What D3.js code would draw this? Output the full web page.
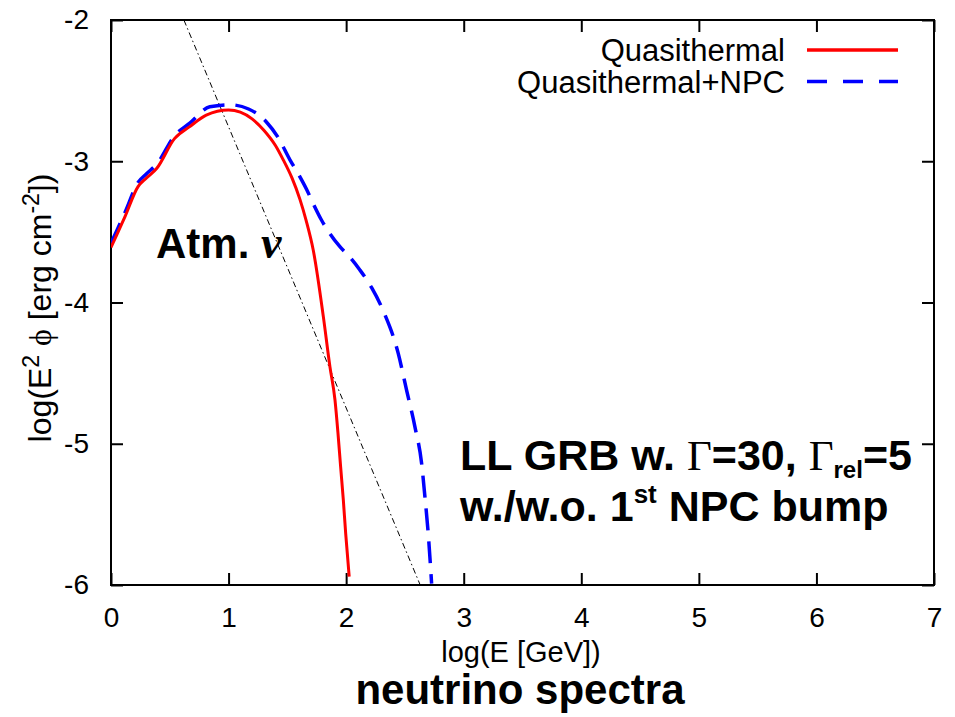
<!DOCTYPE html>
<html>
<head>
<meta charset="utf-8">
<script src="https://cdn.jsdelivr.net/npm/d3@7"></script>
<style>
  body { margin: 0; background: #fff; }
  text { font-family: "Liberation Sans", Arial, sans-serif; fill: #000; }
</style>
</head>
<body>
<script>
// log(E [GeV]) and log(E^2 phi)
var qtX = [0.00, 0.05, 0.12, 0.23, 0.30, 0.39, 0.54, 0.67, 0.81, 1.00, 1.10, 1.20, 1.30, 1.40, 1.465, 1.54,
           1.607, 1.66, 1.72, 1.806, 1.862, 1.905, 1.93, 1.953, 1.976, 1.996, 2.026];
var qtY = [-3.61, -3.52, -3.39, -3.18, -3.12, -3.05, -2.84, -2.755, -2.673, -2.637, -2.652, -2.70, -2.78, -2.89, -2.99, -3.12,
           -3.27, -3.42, -3.628, -4.10, -4.454, -4.69, -4.92, -5.162, -5.398, -5.634, -5.94];

var npcX = [0.00, 0.05, 0.12, 0.23, 0.30, 0.39, 0.54, 0.67, 0.84, 1.01, 1.17, 1.32, 1.42, 1.522, 1.60, 1.664,
            1.72, 1.79, 1.86, 1.947, 2.032, 2.117, 2.217, 2.316, 2.443, 2.514, 2.585, 2.642, 2.670, 2.698, 2.727];
var npcY = [-3.58, -3.49, -3.36, -3.15, -3.09, -3.02, -2.82, -2.73, -2.614, -2.60, -2.63, -2.72, -2.83, -2.99, -3.10, -3.20,
            -3.30, -3.416, -3.51, -3.605, -3.68, -3.77, -3.895, -4.06, -4.36, -4.62, -4.88, -5.14, -5.375, -5.634, -5.99];

// atmospheric neutrino background
var atmX = [0.62, 2.63];
var atmY = [-2, -6];

var xTicks = [0, 1, 2, 3, 4, 5, 6, 7];
var yTicks = [-2, -3, -4, -5, -6];

var width = 955, height = 717;
var margin = {left: 111, top: 20, right: 21, bottom: 132};
var w = width - margin.left - margin.right,
    h = height - margin.top - margin.bottom;

var svg = d3.select("body").append("svg")
    .attr("width", width)
    .attr("height", height);

var g = svg.append("g")
    .attr("transform", "translate(" + margin.left + "," + margin.top + ")");

var xScale = d3.scaleLinear().domain([0, 7]).range([0, w]);
var yScale = d3.scaleLinear().domain([-6, -2]).range([h, 0]);

// plain hyphen for negatives, like the original
var fmt = function (d) { return String(d); };

// axes, ticks pointing into the frame
function styleAxis(sel) {
    sel.selectAll("line").attr("stroke", "#000").attr("stroke-width", 2);
    sel.selectAll("text").attr("fill", "#000").style("font-size", "28px")
        .style("font-family", "\"Liberation Sans\", Arial, sans-serif");
}

g.append("g")
    .attr("transform", "translate(0," + h + ")")
    .call(d3.axisBottom(xScale).tickValues(xTicks).tickFormat(fmt)
        .tickSizeInner(-12).tickSizeOuter(0).tickPadding(22))
    .call(styleAxis);

g.append("g")
    .call(d3.axisTop(xScale).tickValues(xTicks).tickFormat("")
        .tickSizeInner(-12).tickSizeOuter(0))
    .call(styleAxis);

g.append("g")
    .call(d3.axisLeft(yScale).tickValues(yTicks).tickFormat(fmt)
        .tickSizeInner(-12).tickSizeOuter(0).tickPadding(22))
    .call(styleAxis);

g.append("g")
    .attr("transform", "translate(" + w + ",0)")
    .call(d3.axisRight(yScale).tickValues(yTicks).tickFormat("")
        .tickSizeInner(-12).tickSizeOuter(0))
    .call(styleAxis);

g.selectAll(".domain").remove();
g.append("rect")
    .attr("width", w).attr("height", h)
    .attr("fill", "none").attr("stroke", "#000").attr("stroke-width", 2);

g.append("clipPath").attr("id", "clip")
    .append("rect").attr("width", w).attr("height", h);

var line = d3.line()
    .x(function (d) { return xScale(d[0]); })
    .y(function (d) { return yScale(d[1]); })
    .curve(d3.curveMonotoneX);

var plot = g.append("g").attr("clip-path", "url(#clip)");

plot.append("path")
    .attr("d", d3.line().x(function (d) { return xScale(d[0]); })
        .y(function (d) { return yScale(d[1]); })(d3.zip(atmX, atmY)))
    .attr("fill", "none").attr("stroke", "#000").attr("stroke-width", 1)
    .attr("stroke-dasharray", "6,3,1.5,3");

plot.append("path")
    .attr("d", line(d3.zip(npcX, npcY)))
    .attr("fill", "none").attr("stroke", "#0000ff").attr("stroke-width", 3.5)
    .attr("stroke-dasharray", "22,11");

plot.append("path")
    .attr("d", line(d3.zip(qtX, qtY)))
    .attr("fill", "none").attr("stroke", "#ff0000").attr("stroke-width", 3);

// legend
var legend = [
    {name: "Quasithermal", color: "#ff0000", dash: null},
    {name: "Quasithermal+NPC", color: "#0000ff", dash: "20,16"}
];
legend.forEach(function (d, i) {
    var y = 50 + i * 31.5;
    svg.append("line")
        .attr("x1", 807).attr("x2", 898).attr("y1", y).attr("y2", y)
        .attr("stroke", d.color).attr("stroke-width", 3.5)
        .attr("stroke-dasharray", d.dash);
    svg.append("text")
        .attr("x", 785).attr("y", y + 11)
        .attr("text-anchor", "end")
        .style("font-size", "31px")
        .text(d.name);
});

// axis titles
svg.append("text")
    .attr("x", 521).attr("y", 662)
    .attr("text-anchor", "middle")
    .style("font-size", "29px")
    .text("log(E [GeV])");

svg.append("text")
    .attr("x", 520).attr("y", 704)
    .attr("text-anchor", "middle")
    .style("font-size", "42px").style("font-weight", "bold")
    .text("neutrino spectra");

var yl = svg.append("text")
    .attr("transform", "translate(51,308) rotate(-90)")
    .attr("text-anchor", "middle")
    .style("font-size", "32px");
yl.append("tspan").text("log(E");
yl.append("tspan").attr("dy", -12).style("font-size", "23px").text("2");
yl.append("tspan").attr("dy", 12).text(" ");
yl.append("tspan").style("font-family", "\"Liberation Serif\", serif").text("\u03D5");
yl.append("tspan").text(" [erg cm");
yl.append("tspan").attr("dy", -12).style("font-size", "23px").text("-2");
yl.append("tspan").attr("dy", 12).text("])");

// annotations
var serif = "\"Liberation Serif\", serif";

var atm = svg.append("text")
    .attr("x", 156).attr("y", 258)
    .style("font-size", "42px").style("font-weight", "bold");
atm.append("tspan").text("Atm. ");
atm.append("tspan").style("font-family", serif)
    .style("font-style", "italic").style("font-size", "46px").text("\u03BD");

var t1 = svg.append("text")
    .attr("x", 460).attr("y", 470)
    .style("font-size", "43px").style("font-weight", "bold");
t1.append("tspan").text("LL GRB w. ");
t1.append("tspan").style("font-family", serif).style("font-weight", "normal").text("\u0393");
t1.append("tspan").text("=30, ");
t1.append("tspan").style("font-family", serif).style("font-weight", "normal").text("\u0393");
t1.append("tspan").attr("dy", 8).style("font-size", "24px").text("rel");
t1.append("tspan").attr("dy", -8).text("=5");

var t2 = svg.append("text")
    .attr("x", 460).attr("y", 521)
    .style("font-size", "43px").style("font-weight", "bold");
t2.append("tspan").text("w./w.o. 1");
t2.append("tspan").attr("dy", -18).style("font-size", "26px").text("st");
t2.append("tspan").attr("dy", 18).text(" NPC bump");
</script>
</body>
</html>
